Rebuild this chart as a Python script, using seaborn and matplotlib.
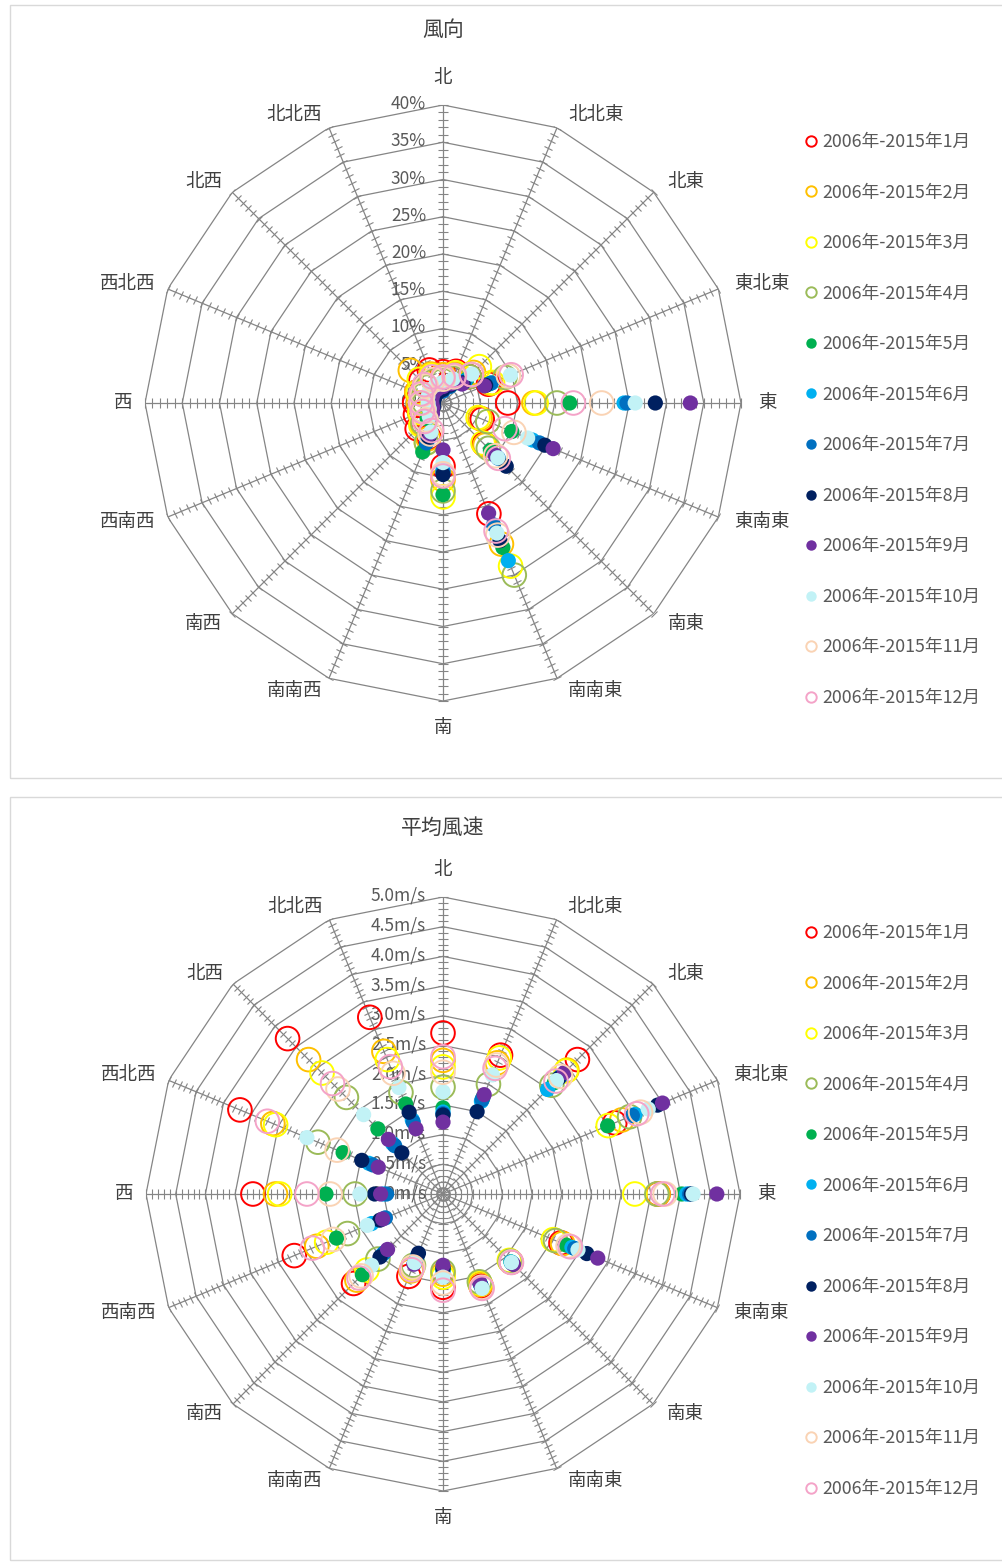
import numpy as np
import pandas as pd
import matplotlib
matplotlib.use("Agg")
import matplotlib.pyplot as plt
from matplotlib.lines import Line2D
from matplotlib.markers import MarkerStyle
from matplotlib.transforms import Affine2D
from matplotlib.patches import Rectangle
import seaborn as sns

# ---------------------------------------------------------------- data
directions = ["北", "北北東", "北東", "東北東", "東", "東南東", "南東", "南南東",
              "南", "南南西", "南西", "西南西", "西", "西北西", "北西", "北北西"]

months = ["2006年-2015年1月", "2006年-2015年2月", "2006年-2015年3月",
          "2006年-2015年4月", "2006年-2015年5月", "2006年-2015年6月",
          "2006年-2015年7月", "2006年-2015年8月", "2006年-2015年9月",
          "2006年-2015年10月", "2006年-2015年11月", "2006年-2015年12月"]

# wind direction frequency (%)
freq_m01 = [4.2, 4.6, 5.0, 6.6, 8.7, 5.7, 7.8, 16.1, 8.5, 5.0, 4.9, 4.0, 3.8, 3.8, 4.2, 4.8]
freq_m02 = [3.8, 4.2, 5.8, 6.9, 12.2, 5.4, 8.0, 20.5, 10.3, 5.2, 4.0, 3.4, 3.3, 3.8, 6.2, 4.2]
freq_m03 = [3.5, 4.4, 6.9, 7.2, 12.5, 5.1, 7.6, 23.7, 12.6, 5.8, 4.2, 3.3, 3.0, 3.6, 4.5, 4.0]
freq_m04 = [3.0, 3.6, 5.0, 9.0, 15.3, 6.5, 8.6, 25.0, 11.8, 5.8, 3.8, 2.8, 2.5, 2.8, 3.0, 3.2]
freq_m05 = [2.0, 2.8, 4.5, 6.6, 17.0, 10.0, 9.0, 21.0, 12.3, 7.1, 3.0, 2.0, 1.8, 1.8, 2.0, 2.0]
freq_m06 = [1.8, 2.5, 4.2, 7.0, 24.3, 13.0, 10.0, 22.9, 9.0, 5.5, 2.5, 1.6, 1.5, 1.5, 1.6, 1.8]
freq_m07 = [1.6, 2.4, 4.0, 7.0, 24.7, 14.0, 10.5, 17.7, 9.3, 5.8, 2.5, 1.5, 1.4, 1.4, 1.5, 1.7]
freq_m08 = [1.8, 2.6, 3.8, 6.2, 28.5, 14.8, 12.0, 20.0, 9.6, 5.0, 2.2, 1.4, 1.3, 1.3, 1.4, 1.6]
freq_m09 = [2.2, 2.8, 3.6, 6.0, 33.2, 16.0, 9.9, 16.0, 6.3, 4.5, 2.0, 1.5, 1.5, 1.6, 1.8, 2.0]
freq_m10 = [2.8, 3.5, 5.5, 9.8, 25.8, 12.3, 10.4, 18.9, 8.0, 4.2, 2.6, 2.0, 2.0, 2.2, 2.5, 2.6]
freq_m11 = [3.2, 3.8, 5.4, 9.5, 21.3, 10.3, 10.0, 19.2, 9.5, 4.5, 3.2, 2.8, 2.8, 3.0, 3.2, 3.4]
freq_m12 = [3.5, 4.0, 5.4, 9.9, 17.5, 9.0, 10.5, 18.6, 9.8, 4.0, 3.5, 3.0, 3.0, 3.2, 3.5, 3.8]

# mean wind speed (m/s)
spd_m01 = [2.71, 2.53, 3.20, 3.13, 3.62, 2.15, 1.62, 1.68, 1.57, 1.50, 2.13, 2.71, 3.20, 3.70, 3.70, 3.22]
spd_m02 = [2.25, 2.39, 2.95, 3.26, 3.62, 2.18, 1.60, 1.65, 1.35, 1.40, 2.05, 2.30, 2.82, 3.10, 3.20, 2.60]
spd_m03 = [2.14, 2.48, 2.93, 3.01, 3.23, 2.01, 1.58, 1.62, 1.40, 1.35, 1.81, 2.12, 2.75, 3.05, 2.88, 2.45]
spd_m04 = [1.80, 2.00, 2.59, 3.40, 3.60, 2.05, 1.60, 1.60, 1.30, 1.30, 1.55, 1.74, 1.48, 2.28, 2.30, 1.85]
spd_m05 = [1.45, 1.75, 2.65, 3.00, 4.02, 2.25, 1.62, 1.62, 1.25, 1.25, 1.92, 1.94, 1.97, 1.82, 1.55, 1.64]
spd_m06 = [1.38, 1.69, 2.49, 3.50, 4.10, 2.35, 1.62, 1.65, 1.30, 1.20, 1.45, 1.30, 1.00, 1.35, 1.20, 1.35]
spd_m07 = [1.35, 1.72, 2.79, 3.45, 4.15, 2.40, 1.65, 1.66, 1.28, 1.15, 1.40, 1.05, 0.95, 1.28, 1.15, 1.31]
spd_m08 = [1.33, 1.50, 2.75, 3.91, 4.18, 2.62, 1.66, 1.70, 1.25, 1.08, 1.50, 1.15, 1.15, 1.48, 0.98, 1.49]
spd_m09 = [1.21, 1.81, 2.89, 4.00, 4.61, 2.82, 1.68, 1.61, 1.20, 1.28, 1.32, 1.10, 1.05, 1.18, 1.30, 1.19]
spd_m10 = [1.72, 2.17, 2.70, 3.74, 4.21, 2.46, 1.63, 1.72, 1.40, 1.25, 1.70, 1.38, 1.40, 2.48, 1.89, 1.94]
spd_m11 = [2.05, 2.35, 2.80, 3.60, 3.74, 2.28, 1.62, 1.70, 1.50, 1.33, 1.95, 2.00, 1.90, 1.93, 2.50, 2.20]
spd_m12 = [2.31, 2.29, 2.69, 3.53, 3.70, 2.32, 1.63, 1.72, 1.62, 1.38, 2.00, 2.38, 2.29, 3.20, 2.63, 2.32]

freq_ticks = ["0%", "5%", "10%", "15%", "20%", "25%", "30%", "35%", "40%"]
spd_ticks = ["0.0m/s", "0.5m/s", "1.0m/s", "1.5m/s", "2.0m/s", "2.5m/s",
             "3.0m/s", "3.5m/s", "4.0m/s", "4.5m/s", "5.0m/s"]

month_colors = ["#FF0000", "#FFC000", "#FFFF00", "#9BBB59", "#00B050", "#00B0F0",
                "#0070C0", "#002060", "#7030A0", "#C2F2F6", "#FAD3B4", "#F4A3C8"]
month_filled = [False, False, False, False, True, True,
                True, True, True, True, False, False]

# ---------------------------------------------------------------- style
sns.set_style("white")
plt.rcParams["font.family"] = ["Noto Sans CJK JP", "DejaVu Sans"]

W, H = 1003, 1562
fig = plt.figure(figsize=(W / 100, H / 100), dpi=100)

GRID = "#858585"
LABEL = "#404040"
TICKTXT = "#595959"


def long_table(series):
    theta = np.deg2rad(np.arange(len(directions)) * 22.5)
    rows = []
    for name, vals in zip(months, series):
        rows.append(pd.DataFrame({"month": name, "direction": directions,
                                  "theta": theta, "value": vals}))
    return pd.concat(rows, ignore_index=True)


def radar(cx, cy, radius, rmax, step, minor, tick_labels, series, title, title_y, legend_y):
    ax = fig.add_axes([(cx - radius) / W, 1 - (cy + radius) / H,
                       2 * radius / W, 2 * radius / H], projection="polar")
    ax.set_theta_zero_location("N")
    ax.set_theta_direction(-1)
    ax.grid(False)
    ax.spines["polar"].set_visible(False)
    ax.set_xticks([])
    ax.set_yticks([])
    ax.patch.set_alpha(0)

    theta = np.deg2rad(np.arange(len(directions)) * 22.5)
    closed = np.append(theta, theta[0])
    levels = np.arange(len(tick_labels)) * step

    # polygon rings
    for lvl in levels[1:]:
        ax.plot(closed, np.full(closed.size, lvl), color=GRID, lw=0.9, zorder=1)
    # spokes with cross ticks
    tick_r = np.arange(1, int(round(rmax / minor)) + 1) * minor
    for t in theta:
        ax.plot([t, t], [0, rmax], color=GRID, lw=0.9, zorder=1)
        ms = MarkerStyle("_", transform=Affine2D().rotate_deg(-np.rad2deg(t)))
        ax.plot(np.full(tick_r.size, t), tick_r, ls="none", marker=ms,
                ms=6.5, mew=0.8, color=GRID, zorder=1, clip_on=False)

    # ring labels along the north spoke
    for lvl, lab in zip(levels, tick_labels):
        ax.annotate(lab, xy=(0, lvl), xytext=(-17, 1), textcoords="offset pixels",
                    ha="right", va="center", fontsize=12.5, color=TICKTXT, zorder=2)

    # direction labels, placed just outside each outer vertex
    for t, name in zip(theta, directions):
        s, c = np.sin(t), np.cos(t)
        if abs(s) < 0.1:
            ha, dx, dy = "center", 0, 27 * np.sign(c)
        elif s > 0:
            ha, dx, dy = "left", 7 + 10 * s, 14 * c
        else:
            ha, dx, dy = "right", -(3 + 10 * abs(s)), 14 * c
        ax.annotate(name, xy=(t, rmax), xytext=(dx, dy), textcoords="offset pixels",
                    ha=ha, va="center", fontsize=13.3, color=LABEL)

    df = long_table(series)
    for i, name in enumerate(months):
        d = df[df["month"] == name]
        if month_filled[i]:
            sns.scatterplot(data=d, x="theta", y="value", ax=ax, color=month_colors[i],
                            s=120, edgecolor="none", linewidth=0, zorder=3 + i,
                            clip_on=False, legend=False)
        else:
            sns.scatterplot(data=d, x="theta", y="value", ax=ax, facecolor="none",
                            edgecolor=month_colors[i], s=290, linewidth=1.4,
                            zorder=3 + i, clip_on=False, legend=False)
    ax.set_xlabel("")
    ax.set_ylabel("")
    ax.set_ylim(0, rmax)

    fig.text(cx / W, 1 - title_y / H, title, ha="center", va="center",
             fontsize=15, color=LABEL)

    handles = []
    for col, filled in zip(month_colors, month_filled):
        handles.append(Line2D([], [], ls="none", marker="o", markersize=7.5,
                              markerfacecolor=col if filled else "none",
                              markeredgecolor=col, markeredgewidth=1.4 if not filled else 0))
    fig.legend(handles, months, loc="upper left",
               bbox_to_anchor=(805 / W, 1 - legend_y / H), frameon=False,
               fontsize=12.8, labelspacing=1.83, handlelength=0.7, handletextpad=0.3,
               borderaxespad=0, borderpad=0, labelcolor=TICKTXT)


radar(443, 403, 298, 40, 5, 1, freq_ticks,
      [freq_m01, freq_m02, freq_m03, freq_m04, freq_m05, freq_m06,
       freq_m07, freq_m08, freq_m09, freq_m10, freq_m11, freq_m12],
      "風向", 30, 133)

radar(443, 1194, 297, 5.0, 0.5, 0.1, spd_ticks,
      [spd_m01, spd_m02, spd_m03, spd_m04, spd_m05, spd_m06,
       spd_m07, spd_m08, spd_m09, spd_m10, spd_m11, spd_m12],
      "平均風速", 828, 924)

# chart-area borders
for top, bottom in [(5, 778), (797, 1560)]:
    fig.add_artist(Rectangle((10 / W, 1 - bottom / H), 1.2, (bottom - top) / H,
                             transform=fig.transFigure, fill=False,
                             edgecolor="#D9D9D9", linewidth=1))

fig.savefig("out.png", dpi=100, facecolor="white")
